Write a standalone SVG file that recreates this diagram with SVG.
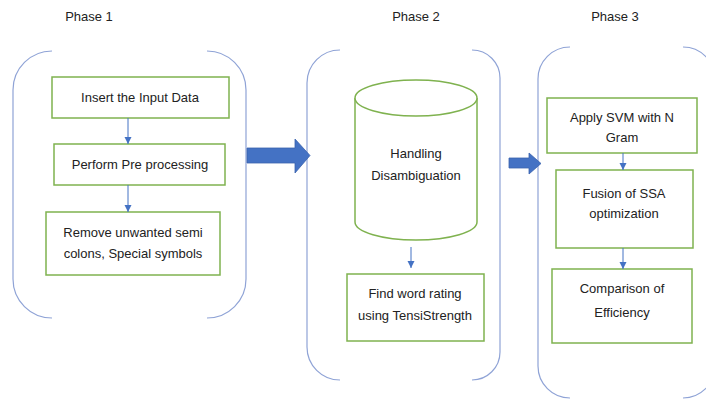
<svg xmlns="http://www.w3.org/2000/svg" width="706" height="400" viewBox="0 0 706 400">
<defs>
<marker id="ah" markerWidth="8" markerHeight="8" refX="7" refY="4" orient="auto" markerUnits="userSpaceOnUse">
<path d="M0,0.5 L7,4 L0,7.5 Z" fill="#4472C4"/>
</marker>
</defs>
<style>
.br{fill:none;stroke:#8FA3D6;stroke-width:1.2}
.bx{fill:#fff;stroke:#7FB24F;stroke-width:1.5}
.t{font-family:"Liberation Sans",Arial,sans-serif;font-size:13px;fill:#222;text-anchor:middle}
.ph{font-family:"Liberation Sans",Arial,sans-serif;font-size:13px;fill:#222;text-anchor:middle}
.cn{stroke:#4472C4;stroke-width:1;fill:none;marker-end:url(#ah)}
.big{fill:#4472C4;stroke:#3A62AD;stroke-width:0.8}
</style>
<rect width="706" height="400" fill="#fff"/>
<text class="ph" x="89" y="21">Phase 1</text>
<text class="ph" x="416" y="21">Phase 2</text>
<text class="ph" x="615" y="21">Phase 3</text>
<g id="phase1">
<path class="br" d="M52,51 A39,39 0 0 0 13,90 V279 A39,39 0 0 0 52,318"/>
<path class="br" d="M207,51 A39,39 0 0 1 246,90 V279 A39,39 0 0 1 207,318"/>
</g>
<g id="phase2">
<path class="br" d="M340,50 A33,33 0 0 0 307,83 V347 A33,33 0 0 0 340,380"/>
<path class="br" d="M472,50 A28,28 0 0 1 500,78 V352 A28,28 0 0 1 472,380"/>
</g>
<g id="phase3">
<path class="br" d="M570,47 A32,32 0 0 0 538,79 V366 A32,32 0 0 0 570,398"/>
<path class="br" d="M683,47 A32,32 0 0 1 715,79 V366 A32,32 0 0 1 683,398"/>
</g>
<g id="n1">
<rect class="bx" x="52" y="77" width="177" height="41"/>
<text class="t" x="140" y="102">Insert the Input Data</text>
</g>
<g id="n2">
<rect class="bx" x="54" y="144" width="171" height="41"/>
<text class="t" x="140" y="169">Perform Pre processing</text>
</g>
<g id="n3">
<rect class="bx" x="46" y="212" width="174" height="63"/>
<text class="t" x="133" y="237">Remove unwanted semi</text>
<text class="t" x="133" y="258">colons, Special symbols</text>
</g>
<g id="n4">
<path class="bx" d="M355,98 V222 A61,18 0 0 0 477,222 V98"/>
<ellipse class="bx" cx="416" cy="98" rx="61" ry="18"/>
<text class="t" x="416" y="158">Handling</text>
<text class="t" x="416" y="180">Disambiguation</text>
</g>
<g id="n5">
<rect class="bx" x="347" y="274" width="137" height="67"/>
<text class="t" x="415" y="298">Find word rating</text>
<text class="t" x="415" y="320">using TensiStrength</text>
</g>
<g id="n6">
<rect class="bx" x="547" y="98" width="150" height="55"/>
<text class="t" x="622" y="122">Apply SVM with N</text>
<text class="t" x="622" y="142">Gram</text>
</g>
<g id="n7">
<rect class="bx" x="556" y="170" width="137" height="78"/>
<text class="t" x="624" y="198">Fusion of SSA</text>
<text class="t" x="624" y="218">optimization</text>
</g>
<g id="n8">
<rect class="bx" x="552" y="269" width="140" height="74"/>
<text class="t" x="622" y="293">Comparison of</text>
<text class="t" x="622" y="317">Efficiency</text>
</g>
<g id="connectors">
<line class="cn" x1="128" y1="118" x2="128" y2="144"/>
<line class="cn" x1="128" y1="185" x2="128" y2="212"/>
<line class="cn" x1="411" y1="247" x2="411" y2="268"/>
<line class="cn" x1="623" y1="153" x2="623" y2="170"/>
<line class="cn" x1="623" y1="248" x2="623" y2="269"/>
<path class="big" d="M247,148 H295 V139 L310,155.5 L295,173 V163 H247 Z"/>
<path class="big" d="M509,158 H529 V153 L541,163.5 L529,174 V168 H509 Z"/>
</g>
</svg>
